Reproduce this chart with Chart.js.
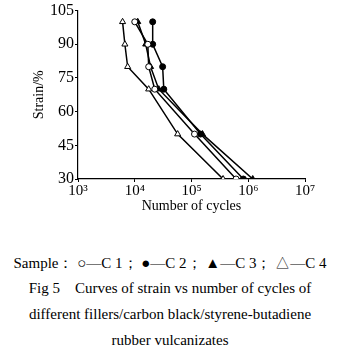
<!DOCTYPE html>
<html>
<head>
<meta charset="utf-8">
<script src="https://cdn.jsdelivr.net/npm/chart.js@4.4.0/dist/chart.umd.min.js"></script>
<style>
  body { margin: 0; background: #fff; width: 340px; height: 353px; overflow: hidden; }
  #wrap { position: relative; width: 340px; height: 215px; }
  .cap { position: absolute; left: 0; width: 340px; text-align: center;
         font-family: "Liberation Serif", "Times New Roman", serif; font-size: 15px; color: #000; white-space: nowrap; }
</style>
</head>
<body>
<div id="wrap"><canvas id="fatigueChart" width="340" height="215"></canvas></div>
<div class="cap" style="top:254px;">Sample： ○—C 1； ●—C 2； ▲—C 3； △—C 4</div>
<div class="cap" style="top:280px;">Fig 5&nbsp;&nbsp;&nbsp;&nbsp;Curves of strain vs number of cycles of</div>
<div class="cap" style="top:306px;">different fillers/carbon black/styrene-butadiene</div>
<div class="cap" style="top:332px;">rubber vulcanizates</div>
<script>
// strain levels (%) and cycles
const strainLevels = [100, 90, 80, 70, 50, 30];
const cyclesC1 = [1.0e4, 1.7e4, 1.76e4, 2.25e4, 1.13e5, 6.1e5];
const cyclesC2 = [2.07e4, 2.07e4, 3.1e4, 3.25e4, 1.44e5, 8.2e5];
const cyclesC3 = [1.13e4, 1.56e4, 1.9e4, 2.65e4, 1.56e5, 1.2e6];
const cyclesC4 = [6.1e3, 6.7e3, 7.5e3, 1.76e4, 5.7e4, 3.6e5];
const xTickValues = [1e3, 1e4, 1e5, 1e6, 1e7];
const xTickLabels = ['10³', '10⁴', '10⁵', '10⁶', '10⁷'];
const yTickValues = [30, 45, 60, 75, 90, 105];

const serif = "'Liberation Serif', 'Times New Roman', serif";

function toPoints(cycles) {
    return cycles.map((n, i) => ({ x: n, y: strainLevels[i] }));
}

function series(label, cycles, style, filled) {
    return {
        label: label,
        data: toPoints(cycles),
        borderColor: '#000',
        borderWidth: 1.5,
        pointStyle: style,
        pointRadius: style === 'triangle' ? 3.5 : 3,
        pointBackgroundColor: filled ? '#000' : '#fff',
        pointBorderColor: '#000',
        pointBorderWidth: 1,
        showLine: true,
        fill: false,
        tension: 0
    };
}

const ctx = document.getElementById('fatigueChart').getContext('2d');
new Chart(ctx, {
    type: 'scatter',
    data: {
        datasets: [
            series('C 1', cyclesC1, 'circle', false),
            series('C 2', cyclesC2, 'circle', true),
            series('C 3', cyclesC3, 'triangle', true),
            series('C 4', cyclesC4, 'triangle', false)
        ]
    },
    options: {
        responsive: false,
        animation: false,
        layout: { padding: { left: 31, right: 35, top: 7, bottom: 0 } },
        plugins: { legend: { display: false }, tooltip: { enabled: false } },
        scales: {
            x: {
                type: 'logarithmic',
                min: 1e3,
                max: 1e7,
                afterBuildTicks: s => { s.ticks = xTickValues.map(v => ({ value: v })); },
                afterFit: s => { s.height = 36; },
                border: { color: '#000', width: 1.2 },
                grid: { drawOnChartArea: false, color: '#000', tickLength: 3 },
                ticks: {
                    color: '#000',
                    font: { family: serif, size: 15 },
                    padding: 0,
                    maxRotation: 0,
                    autoSkip: false,
                    callback: (v) => xTickLabels[xTickValues.indexOf(v)] || ''
                },
                title: {
                    display: true,
                    text: 'Number of cycles',
                    color: '#000',
                    font: { family: serif, size: 14 },
                    padding: { top: 0, bottom: 0 }
                }
            },
            y: {
                min: 30,
                max: 105,
                afterBuildTicks: s => { s.ticks = yTickValues.map(v => ({ value: v })); },
                afterFit: s => { s.width = 47; },
                border: { color: '#000', width: 1.2 },
                grid: { drawOnChartArea: false, color: '#000', tickLength: 3 },
                ticks: {
                    color: '#000',
                    font: { family: serif, size: 16 },
                    padding: 1
                },
                title: {
                    display: true,
                    text: 'Strain/%',
                    color: '#000',
                    font: { family: serif, size: 14 },
                    padding: { top: 0, bottom: 0 }
                }
            }
        }
    }
});
</script>
</body>
</html>
